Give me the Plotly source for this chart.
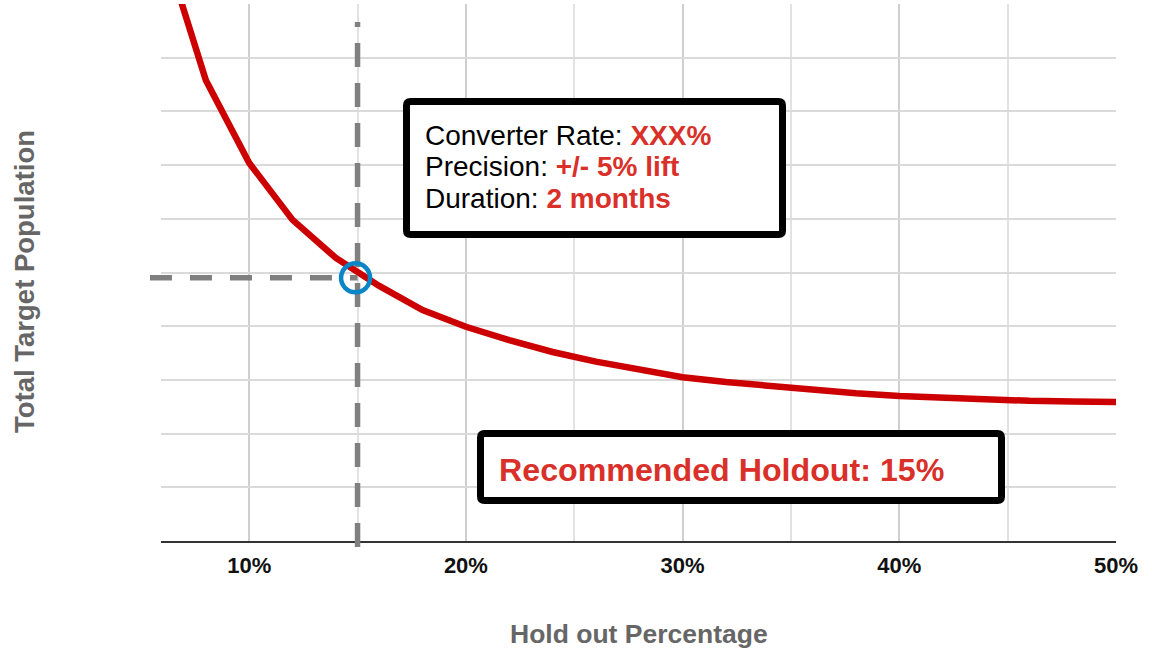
import plotly.graph_objects as go

# Hold-out percentage (%) and the target population needed at each level
holdout_pct = [6, 8, 10, 12, 14, 16, 18, 20, 22, 24, 26, 28, 30, 32, 34, 36, 38, 40, 42, 44, 46, 48, 50]
population = [11.15, 8.58, 7.04, 5.98, 5.27, 4.75, 4.30, 3.99, 3.74, 3.52, 3.34, 3.18, 3.05,
              2.96, 2.88, 2.81, 2.75, 2.70, 2.66, 2.63, 2.61, 2.60, 2.59]

# Recommended operating point
rec_holdout = 15
rec_population = 4.9

x_tick_vals = [10, 20, 30, 40, 50]
x_tick_text = ["10%", "20%", "30%", "40%", "50%"]
x_minor_vals = [15, 25, 35, 45]
y_grid_vals = list(range(0, 11))

W, H = 1156, 648
ML, MR, MT, MB = 161, 40, 4, 107
X_RANGE = [5.93, 50]
Y_RANGE = [0, 10]

RED_LINE = "#cc0000"
RED_TEXT = "#d9302a"
GREY_DASH = "#808080"
BLUE = "#0a86c8"
FONT = "Liberation Sans, Arial, Helvetica, sans-serif"

plot_w = W - ML - MR
plot_h = H - MT - MB


def px_x(px):
    return (px - ML) / plot_w


def px_y(py):
    return (H - MB - py) / plot_h


def data_to_paper_x(v):
    return (v - X_RANGE[0]) / (X_RANGE[1] - X_RANGE[0])


def rounded_box(left, top, right, bottom, r=4):
    """SVG path (paper coordinates) for a box with slightly rounded corners."""
    xl, xr = px_x(left), px_x(right)
    yt, yb = px_y(top), px_y(bottom)
    dx, dy = r / plot_w, r / plot_h
    return (
        f"M {xl + dx},{yt} L {xr - dx},{yt} Q {xr},{yt} {xr},{yt - dy} "
        f"L {xr},{yb + dy} Q {xr},{yb} {xr - dx},{yb} "
        f"L {xl + dx},{yb} Q {xl},{yb} {xl},{yb + dy} "
        f"L {xl},{yt - dy} Q {xl},{yt} {xl + dx},{yt} Z"
    )


fig = go.Figure()

fig.add_trace(go.Scatter(
    x=holdout_pct, y=population, mode="lines",
    line=dict(color=RED_LINE, width=6.5), hoverinfo="skip", showlegend=False,
))

shapes = [
    # dashed guide lines to the recommended point
    dict(type="line", xref="x", yref="paper", x0=rec_holdout, x1=rec_holdout,
         y0=px_y(547), y1=px_y(22), layer="above",
         line=dict(color=GREY_DASH, width=5.5, dash="24px,16px")),
    dict(type="line", xref="paper", yref="y", x0=px_x(150), x1=data_to_paper_x(rec_holdout),
         y0=rec_population, y1=rec_population, layer="above",
         line=dict(color=GREY_DASH, width=5.5, dash="22px,18px")),
    # marker ring on the recommended point
    dict(type="circle", xref="x", yref="y", xsizemode="pixel", ysizemode="pixel",
         xanchor=rec_holdout, yanchor=rec_population, x0=-16.5, x1=12.5, y0=-14.5, y1=14.5,
         layer="above", line=dict(color=BLUE, width=4.5), fillcolor="rgba(0,0,0,0)"),
    # info boxes
    dict(type="path", xref="paper", yref="paper", path=rounded_box(406.5, 101.5, 782.5, 234.5),
         layer="above", line=dict(color="#000000", width=7), fillcolor="#ffffff"),
    dict(type="path", xref="paper", yref="paper", path=rounded_box(480.5, 433.5, 1001.5, 500.5),
         layer="above", line=dict(color="#000000", width=7), fillcolor="#ffffff"),
]

info_lines = [
    ("Converter Rate: ", "XXX%"),
    ("Precision: ", "+/- 5% lift"),
    ("Duration: ", "2 months"),
]
info_y = [135.5, 167, 198.5]

annotations = []
for (label, value), yy in zip(info_lines, info_y):
    annotations.append(dict(
        xref="paper", yref="paper", x=px_x(423), y=px_y(yy), xanchor="left", yanchor="middle",
        showarrow=False,
        text=f"{label}<b><span style='color:{RED_TEXT}'>{value}</span></b>",
        font=dict(family=FONT, size=28, color="#000000"),
    ))

annotations.append(dict(
    xref="paper", yref="paper", x=px_x(497), y=px_y(470), xanchor="left", yanchor="middle",
    showarrow=False, text="<b>Recommended Holdout: 15%</b>",
    font=dict(family=FONT, size=32.2, color=RED_TEXT),
))

# axis titles
annotations.append(dict(
    xref="paper", yref="paper", x=px_x(639), y=px_y(634), xanchor="center", yanchor="middle",
    showarrow=False, text="<b>Hold out Percentage</b>",
    font=dict(family=FONT, size=26.5, color="#666666"),
))
annotations.append(dict(
    xref="paper", yref="paper", x=px_x(24), y=px_y(282), xanchor="center", yanchor="middle",
    showarrow=False, text="<b>Total Target Population</b>", textangle=-90,
    font=dict(family=FONT, size=27.5, color="#666666"),
))

fig.update_layout(
    width=W, height=H,
    margin=dict(l=ML, r=MR, t=MT, b=MB),
    paper_bgcolor="#ffffff", plot_bgcolor="#ffffff",
    showlegend=False,
    shapes=shapes, annotations=annotations,
    xaxis=dict(
        range=X_RANGE, tickmode="array", tickvals=x_tick_vals, ticktext=x_tick_text,
        showgrid=True, gridcolor="#cfcfcf", gridwidth=1.5,
        minor=dict(tickmode="array", tickvals=x_minor_vals, showgrid=True,
                   gridcolor="#e2e2e2", gridwidth=1.5, ticks=""),
        ticks="", showline=True, linecolor="#333333", linewidth=2,
        zeroline=False, fixedrange=True,
        tickfont=dict(family=FONT, size=22, color="#111111", weight="bold"),
        ticklabelstandoff=4,
    ),
    yaxis=dict(
        range=Y_RANGE, tickmode="array", tickvals=y_grid_vals, showticklabels=False,
        showgrid=True, gridcolor="#dadada", gridwidth=1.5, ticks="",
        zeroline=False, showline=False, fixedrange=True,
    ),
)

fig.write_html("out.html")
